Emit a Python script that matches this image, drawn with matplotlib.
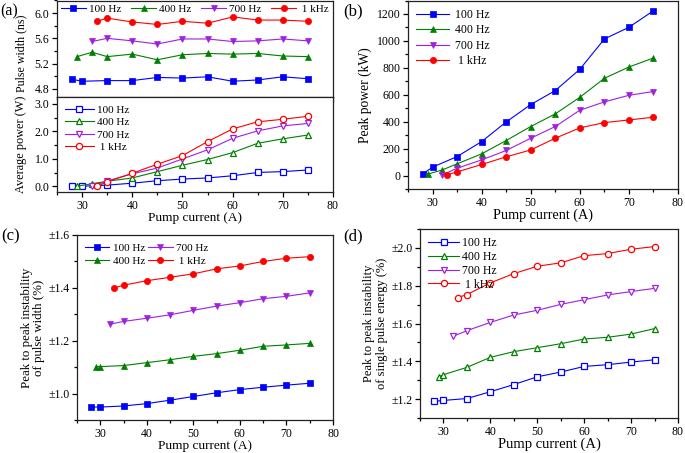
import matplotlib
matplotlib.use("Agg")
import matplotlib.pyplot as plt
from matplotlib.ticker import MultipleLocator, FormatStrFormatter, FuncFormatter

plt.rcParams['font.family'] = ['Liberation Serif', 'DejaVu Serif']
plt.rcParams['mathtext.fontset'] = 'stix'

# ---------------- data ----------------
labels = ["100 Hz", "400 Hz", "700 Hz", " 1 kHz"]
x100 = [28, 30, 35, 40, 45, 50, 55, 60, 65, 70, 75]
x400 = [29, 32, 35, 40, 45, 50, 55, 60, 65, 70, 75]
x700 = [32, 35, 40, 45, 50, 55, 60, 65, 70, 75]
x1k = [33, 35, 40, 45, 50, 55, 60, 65, 70, 75]

# (a) pulse width (ns)
pw100 = [4.95, 4.92, 4.93, 4.93, 4.98, 4.97, 4.99, 4.92, 4.94, 4.99, 4.96]
pw400 = [5.31, 5.38, 5.31, 5.35, 5.26, 5.34, 5.36, 5.35, 5.36, 5.32, 5.31]
pw700 = [5.55, 5.60, 5.56, 5.51, 5.59, 5.59, 5.55, 5.56, 5.59, 5.56]
pw1k = [5.87, 5.92, 5.86, 5.82, 5.87, 5.84, 5.94, 5.89, 5.89, 5.87]

# (a) average power (W)
ap100 = [0.00, 0.01, 0.05, 0.12, 0.21, 0.27, 0.31, 0.39, 0.51, 0.54, 0.60]
ap400 = [0.01, 0.10, 0.19, 0.31, 0.54, 0.77, 0.98, 1.23, 1.57, 1.73, 1.87]
ap700 = [0.00, 0.20, 0.46, 0.67, 1.00, 1.33, 1.75, 2.02, 2.20, 2.29]
ap1k = [0.01, 0.17, 0.48, 0.81, 1.12, 1.63, 2.09, 2.35, 2.44, 2.55]

# (b) peak power (kW)
pp100 = [12, 62, 141, 252, 398, 527, 631, 789, 1014, 1101, 1224]
pp400 = [10, 42, 87, 161, 260, 364, 458, 581, 722, 806, 873]
pp700 = [5, 54, 116, 186, 277, 364, 485, 547, 596, 624]
pp1k = [7, 27, 82, 139, 190, 277, 354, 393, 413, 433]

# (c) instability of pulse width (%)
x400c = [29, 30, 35, 40, 45, 50, 55, 60, 65, 70, 75]
iw100 = [0.949, 0.949, 0.953, 0.962, 0.975, 0.989, 1.003, 1.015, 1.024, 1.032, 1.039]
iw400 = [1.102, 1.102, 1.106, 1.117, 1.128, 1.141, 1.151, 1.164, 1.179, 1.184, 1.190]
iw700 = [1.262, 1.273, 1.285, 1.298, 1.315, 1.331, 1.344, 1.359, 1.368, 1.381]
iw1k = [1.400, 1.410, 1.427, 1.440, 1.453, 1.472, 1.483, 1.500, 1.512, 1.518]

# (d) instability of single pulse energy (%)
ie100 = [1.188, 1.193, 1.203, 1.239, 1.277, 1.318, 1.343, 1.373, 1.382, 1.396, 1.408]
ie400 = [1.317, 1.329, 1.368, 1.421, 1.451, 1.472, 1.493, 1.518, 1.527, 1.544, 1.573]
ie700 = [1.532, 1.562, 1.606, 1.645, 1.670, 1.701, 1.726, 1.751, 1.769, 1.786]
ie1k = [1.737, 1.753, 1.815, 1.864, 1.903, 1.921, 1.959, 1.970, 1.993, 2.007]

colors = ["#0000FF", "#008000", "#A020E0", "#FF0000"]
filled_markers = ["s", "^", "v", "o"]

W, H = 685, 453
fig = plt.figure(figsize=(W / 100, H / 100), dpi=100)


def rect(l, t, r, b):
    return [l / W, 1 - b / H, (r - l) / W, (b - t) / H]


def style(ax, xlabels=True):
    ax.set_xlim(25, 80)
    ax.xaxis.set_major_locator(MultipleLocator(10))
    ax.xaxis.set_minor_locator(MultipleLocator(5))
    ax.tick_params(which='both', direction='out', top=False, right=False, labelsize=8.5, width=0.9, pad=2)
    ax.tick_params(which='major', length=3.5)
    ax.tick_params(which='minor', length=2)
    for s in ax.spines.values():
        s.set_linewidth(0.9)
        s.set_color('#222222')
    if not xlabels:
        ax.tick_params(axis='x', labelbottom=False)


def plot_series(ax, xs, ys, open_m=False, ms=4.5):
    hs = []
    for x, y, c, m, lab in zip(xs, ys, colors, filled_markers, labels):
        h, = ax.plot(x, y, color=c, lw=0.8, marker=m, ms=ms,
                     mfc='white' if open_m else c, mec=c, mew=0.9 if open_m else 0.5, label=lab)
        hs.append(h)
    return hs


pm = FuncFormatter(lambda v, p: "\u00b1%.1f" % v)

# (a) upper
axa1 = fig.add_axes(rect(57, 0.5, 333, 97))
plot_series(axa1, [x100, x400, x700, x1k], [pw100, pw400, pw700, pw1k])
style(axa1, xlabels=False)
axa1.set_ylim(4.67, 6.2)
axa1.yaxis.set_major_locator(MultipleLocator(0.4))
axa1.yaxis.set_minor_locator(MultipleLocator(0.2))
axa1.yaxis.set_major_formatter(FormatStrFormatter('%.1f'))
axa1.set_ylabel("Pulse width (ns)", fontsize=8.6, labelpad=2)
axa1.yaxis.set_label_coords(-0.107, 0.45)
axa1.legend(ncol=4, loc='upper center', bbox_to_anchor=(0.5, 1.03), frameon=False, fontsize=8,
            handlelength=2.2, handletextpad=0.3, columnspacing=0.9, borderaxespad=0.2)

# (a) lower
axa2 = fig.add_axes(rect(57, 97, 333, 192))
plot_series(axa2, [x100, x400, x700, x1k], [ap100, ap400, ap700, ap1k], open_m=True)
style(axa2)
axa2.set_ylim(-0.2, 3.25)
axa2.yaxis.set_major_locator(MultipleLocator(1.0))
axa2.yaxis.set_minor_locator(MultipleLocator(0.5))
axa2.yaxis.set_major_formatter(FormatStrFormatter('%.1f'))
axa2.set_ylabel("Average power (W)", fontsize=8.8, labelpad=2)
axa2.yaxis.set_label_coords(-0.107, 0.5)
axa2.set_xlabel("Pump current (A)", fontsize=9.5, labelpad=0)
axa2.legend(loc='upper left', frameon=False, fontsize=8, handlelength=2.6,
            handletextpad=0.3, labelspacing=0.25, borderaxespad=0.3)

# (b)
axb = fig.add_axes(rect(408, 0.5, 678, 189))
plot_series(axb, [x100, x400, x700, x1k], [pp100, pp400, pp700, pp1k])
style(axb)
axb.set_ylim(-100, 1300)
axb.yaxis.set_major_locator(MultipleLocator(200))
axb.yaxis.set_minor_locator(MultipleLocator(100))
axb.set_ylabel("Peak power (kW)", fontsize=9.8, labelpad=3)
axb.set_xlabel("Pump current (A)", fontsize=10.2, labelpad=0)
axb.legend(loc='upper left', frameon=False, fontsize=8.5, handlelength=2.8,
           handletextpad=0.5, labelspacing=0.3, borderaxespad=0.3)

# (c)
axc = fig.add_axes(rect(77, 235, 333, 420))
plot_series(axc, [x100, x400c, x700, x1k], [iw100, iw400, iw700, iw1k])
style(axc)
axc.set_ylim(0.9, 1.6)
axc.yaxis.set_major_locator(MultipleLocator(0.2))
axc.yaxis.set_minor_locator(MultipleLocator(0.1))
axc.yaxis.set_major_formatter(pm)
axc.set_ylabel("Peak to peak instability\nof pulse width (%)", fontsize=9.3, labelpad=2, linespacing=1.05)
axc.set_xlabel("Pump current (A)", fontsize=9.5, labelpad=0)
axc.legend(ncol=2, loc='upper left', frameon=False, fontsize=8, handlelength=2.2,
           handletextpad=0.3, labelspacing=0.3, columnspacing=0.3, borderaxespad=0.3)

# (d)
axd = fig.add_axes(rect(420, 229, 678, 418))
plot_series(axd, [x100, x400c, x700, x1k], [ie100, ie400, ie700, ie1k], open_m=True)
style(axd)
axd.set_ylim(1.1, 2.1)
axd.yaxis.set_major_locator(MultipleLocator(0.2))
axd.yaxis.set_minor_locator(MultipleLocator(0.1))
axd.yaxis.set_major_formatter(pm)
axd.set_ylabel("Peak to peak instability\nof single pulse energy (%)", fontsize=9, labelpad=2, linespacing=1.1)
axd.set_xlabel("Pump current (A)", fontsize=10.5, labelpad=0)
axd.legend(loc='upper left', frameon=False, fontsize=8.5, handlelength=2.6,
           handletextpad=0.3, labelspacing=0.15, borderaxespad=0.3)

# panel labels
fig.text(0 / W, 1 - 3 / H, "(a)", fontsize=11.5, va='top', ha='left')
fig.text(343 / W, 1 - 3 / H, "(b)", fontsize=12, va='top', ha='left')
fig.text(1 / W, 1 - 228 / H, "(c)", fontsize=12, va='top', ha='left')
fig.text(343 / W, 1 - 228 / H, "(d)", fontsize=12, va='top', ha='left')

fig.savefig("out.png", dpi=100)
